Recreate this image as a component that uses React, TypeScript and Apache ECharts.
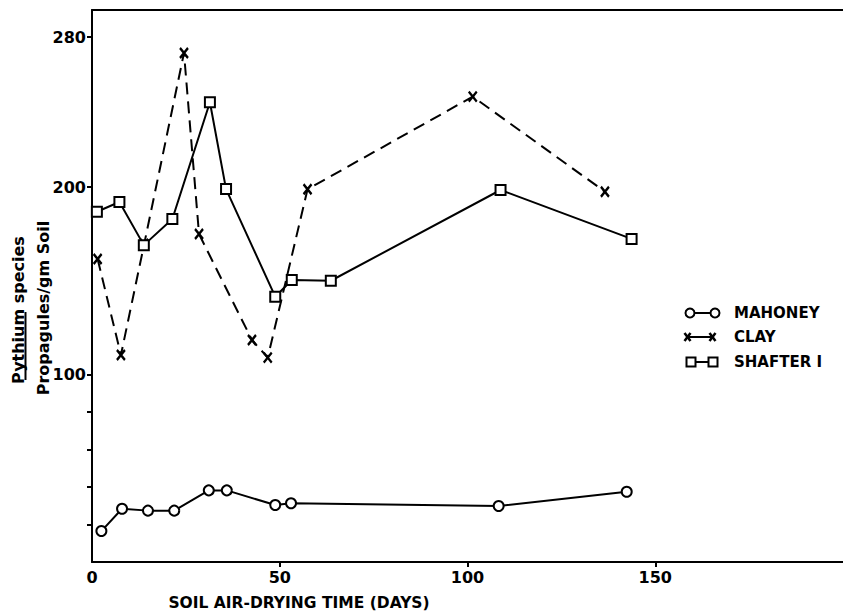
import React, { useEffect, useRef } from "react";
import * as echarts from "echarts";

const mahoneyDays = [2.5, 8, 14.9, 21.9, 31.1, 35.9, 48.8, 53, 108.3, 142.4];
const mahoneyVals = [16.5, 28.4, 27.4, 27.4, 38.2, 38.2, 30.4, 31.3, 29.9, 37.5];
const clayDays = [1.5, 7.7, 13.9, 24.5, 28.5, 42.6, 46.8, 57.4, 101.4, 136.6];
const clayVals = [161.6, 110.4, 169.6, 271.5, 174.9, 118.4, 109, 198.8, 248.2, 197.5];
const shafterDays = [1.3, 7.3, 13.8, 21.4, 31.4, 35.7, 48.8, 53.2, 63.6, 108.8, 143.7];
const shafterVals = [186.8, 192, 169, 182.9, 245.2, 198.9, 141.5, 150.4, 150, 198.4, 172.3];

const xTickLabels = [0, 50, 100, 150];
const yTickLabels = [100, 200, 280];
const yMinorTicks = [20, 40, 60, 80];

const FONT = "DejaVu Sans";

function pairs(xs: number[], ys: number[]) {
  return xs.map((x, i) => [x, ys[i]]);
}

export default function App() {
  const ref = useRef<HTMLDivElement>(null);
  useEffect(() => {
    if (!ref.current) return;
    const chart = echarts.init(ref.current, null, { renderer: "svg" });
    const black = "#000";
    const txt = (text: string, x: number, y: number, size: number, align = "left") => ({
      type: "text",
      x,
      y,
      style: { text, fontFamily: FONT, fontWeight: "bold", fontSize: size, fill: black, align, verticalAlign: "middle" },
    });
    const option: any = {
      animation: false,
      backgroundColor: "#fff",
      grid: { left: 92, right: 0, top: 10, bottom: 52, containLabel: false },
      xAxis: [
        {
          type: "value",
          min: 0,
          max: 200,
          splitLine: { show: false },
          axisLine: { show: true, lineStyle: { color: black, width: 2 } },
          axisTick: {
            show: true,
            customValues: [50, 100, 150],
            length: 5,
            lineStyle: { color: black, width: 2 },
          },
          axisLabel: {
            customValues: xTickLabels,
            color: black,
            fontFamily: FONT,
            fontWeight: "bold",
            fontSize: 16,
            margin: 7,
          },
        },
        {
          type: "value",
          position: "top",
          min: 0,
          max: 200,
          splitLine: { show: false },
          axisLine: { show: true, lineStyle: { color: black, width: 2 } },
          axisTick: { show: false },
          axisLabel: { show: false },
        },
      ],
      yAxis: {
        type: "value",
        min: 0,
        max: 294.4,
        splitLine: { show: false },
        axisLine: { show: true, lineStyle: { color: black, width: 2 } },
        axisTick: {
          show: true,
          customValues: [...yMinorTicks, ...yTickLabels],
          length: 5,
          lineStyle: { color: black, width: 2 },
        },
        axisLabel: {
          customValues: yTickLabels,
          color: black,
          fontFamily: FONT,
          fontWeight: "bold",
          fontSize: 16,
          margin: 6,
        },
      },
      series: [
        {
          name: "MAHONEY",
          type: "line",
          data: pairs(mahoneyDays, mahoneyVals),
          symbol: "circle",
          symbolSize: 10,
          lineStyle: { color: black, width: 2 },
          itemStyle: { color: "#fff", borderColor: black, borderWidth: 2 },
          z: 3,
        },
        {
          name: "CLAY",
          type: "line",
          data: pairs(clayDays, clayVals),
          symbol: "path://M0,0L10,12M10,0L0,12",
          symbolSize: [8, 10],
          symbolKeepAspect: false,
          lineStyle: { color: black, width: 2, type: [12, 7] },
          itemStyle: { color: black, borderColor: black, borderWidth: 2.5 },
          z: 2,
        },
        {
          name: "SHAFTER I",
          type: "line",
          data: pairs(shafterDays, shafterVals),
          symbol: "rect",
          symbolSize: 10,
          lineStyle: { color: black, width: 2 },
          itemStyle: { color: "#fff", borderColor: black, borderWidth: 2 },
          z: 4,
        },
      ],
      graphic: [
        // y-axis title
        {
          type: "text",
          x: 18,
          y: 310,
          rotation: Math.PI / 2,
          style: {
            text: "Pythium species",
            fontFamily: FONT,
            fontWeight: "bold",
            fontSize: 16,
            fill: black,
            align: "center",
            verticalAlign: "middle",
          },
        },
        {
          type: "rect",
          shape: { x: 24.5, y: 312, width: 2, height: 68 },
          style: { fill: black },
        },
        {
          type: "text",
          x: 43,
          y: 308,
          rotation: Math.PI / 2,
          style: {
            text: "Propagules/gm Soil",
            fontFamily: FONT,
            fontWeight: "bold",
            fontSize: 16,
            fill: black,
            align: "center",
            verticalAlign: "middle",
          },
        },
        // x-axis title
        txt("SOIL AIR-DRYING TIME (DAYS)", 299, 603, 15.5, "center"),
        // legend: MAHONEY
        { type: "line", shape: { x1: 690, y1: 313, x2: 715, y2: 313 }, style: { stroke: black, lineWidth: 2 } },
        { type: "circle", shape: { cx: 690, cy: 313, r: 4.5 }, style: { fill: "#fff", stroke: black, lineWidth: 2 } },
        { type: "circle", shape: { cx: 715, cy: 313, r: 4.5 }, style: { fill: "#fff", stroke: black, lineWidth: 2 } },
        txt("MAHONEY", 734, 313, 15),
        // legend: CLAY
        { type: "line", shape: { x1: 688, y1: 337, x2: 712, y2: 337 }, style: { stroke: black, lineWidth: 2 } },
        { type: "line", shape: { x1: 684.5, y1: 333, x2: 690.5, y2: 341 }, style: { stroke: black, lineWidth: 2.5 } },
        { type: "line", shape: { x1: 690.5, y1: 333, x2: 684.5, y2: 341 }, style: { stroke: black, lineWidth: 2.5 } },
        { type: "line", shape: { x1: 709.5, y1: 333, x2: 715.5, y2: 341 }, style: { stroke: black, lineWidth: 2.5 } },
        { type: "line", shape: { x1: 715.5, y1: 333, x2: 709.5, y2: 341 }, style: { stroke: black, lineWidth: 2.5 } },
        txt("CLAY", 734, 337, 15),
        // legend: SHAFTER I
        { type: "line", shape: { x1: 691, y1: 362, x2: 713, y2: 362 }, style: { stroke: black, lineWidth: 2 } },
        { type: "rect", shape: { x: 686.5, y: 357.5, width: 9, height: 9 }, style: { fill: "#fff", stroke: black, lineWidth: 2 } },
        { type: "rect", shape: { x: 708.5, y: 357.5, width: 9, height: 9 }, style: { fill: "#fff", stroke: black, lineWidth: 2 } },
        txt("SHAFTER I", 734, 362, 15),
      ],
    };
    chart.setOption(option);
    return () => chart.dispose();
  }, []);
  return (
    <div
      ref={ref}
      style={{ position: "absolute", left: 0, top: 0, width: 843, height: 614, background: "#fff" }}
    />
  );
}
